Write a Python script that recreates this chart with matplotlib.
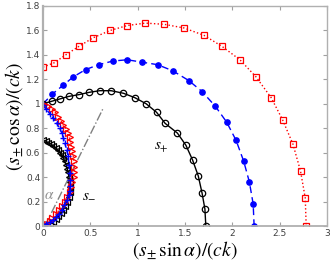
import matplotlib
matplotlib.use("Agg")
import matplotlib.pyplot as plt
from matplotlib.ticker import FuncFormatter

plt.rcParams['mathtext.fontset'] = 'stix'

# s+ curves
bk_plus_x = [0.0, 0.09, 0.18, 0.27, 0.38, 0.49, 0.60, 0.72, 0.85, 0.97, 1.09, 1.20, 1.29, 1.42, 1.51, 1.58, 1.64, 1.68, 1.71, 1.72]
bk_plus_y = [1.00, 1.02, 1.04, 1.06, 1.075, 1.094, 1.107, 1.107, 1.086, 1.05, 1.00, 0.93, 0.84, 0.76, 0.66, 0.54, 0.41, 0.27, 0.14, 0.0]

bl_plus_x = [0.0, 0.10, 0.21, 0.32, 0.45, 0.59, 0.74, 0.89, 1.05, 1.21, 1.37, 1.54, 1.68, 1.82, 1.94, 2.04, 2.12, 2.18, 2.22, 2.23]
bl_plus_y = [1.00, 1.08, 1.15, 1.22, 1.28, 1.32, 1.35, 1.36, 1.34, 1.32, 1.27, 1.19, 1.10, 0.98, 0.85, 0.70, 0.53, 0.36, 0.18, 0.0]

rd_plus_x = [0.0, 0.12, 0.24, 0.38, 0.53, 0.71, 0.89, 1.08, 1.28, 1.49, 1.70, 1.89, 2.08, 2.25, 2.41, 2.53, 2.64, 2.72, 2.77, 2.78]
rd_plus_y = [1.30, 1.336, 1.40, 1.47, 1.54, 1.60, 1.64, 1.66, 1.65, 1.62, 1.56, 1.47, 1.36, 1.22, 1.05, 0.87, 0.67, 0.45, 0.23, 0.0]

# s- curves
bk_minus_x = [0.0, 0.03, 0.056, 0.085, 0.11, 0.135, 0.16, 0.18, 0.20, 0.215, 0.23, 0.245, 0.255, 0.265, 0.275, 0.28, 0.285, 0.28, 0.27, 0.25, 0.23, 0.21, 0.185, 0.16, 0.135, 0.11, 0.075, 0.04, 0.015, 0.0]
bk_minus_y = [0.70, 0.695, 0.68, 0.67, 0.655, 0.64, 0.62, 0.60, 0.58, 0.555, 0.53, 0.50, 0.47, 0.44, 0.40, 0.36, 0.32, 0.28, 0.24, 0.20, 0.165, 0.13, 0.105, 0.08, 0.055, 0.035, 0.02, 0.005, 0.002, 0.0]

rd_minus_x = [0.0, 0.05, 0.09, 0.13, 0.16, 0.19, 0.21, 0.24, 0.26, 0.28, 0.29, 0.30, 0.31, 0.32, 0.325, 0.33, 0.33, 0.325, 0.31, 0.295, 0.28, 0.255, 0.23, 0.20, 0.17, 0.135, 0.10, 0.07, 0.04, 0.015, 0.0]
rd_minus_y = [1.00, 0.985, 0.96, 0.93, 0.895, 0.86, 0.83, 0.795, 0.76, 0.725, 0.69, 0.65, 0.61, 0.57, 0.53, 0.485, 0.44, 0.40, 0.36, 0.32, 0.28, 0.24, 0.20, 0.165, 0.13, 0.095, 0.065, 0.04, 0.02, 0.006, 0.0]

bl_minus_x = [0.0, 0.035, 0.07, 0.11, 0.145, 0.175, 0.20, 0.215, 0.23, 0.25, 0.265, 0.275, 0.285, 0.29, 0.29, 0.285, 0.27, 0.25, 0.225, 0.20, 0.17, 0.14, 0.105, 0.07, 0.035, 0.01, 0.0]
bl_minus_y = [0.99, 0.955, 0.92, 0.88, 0.84, 0.80, 0.76, 0.72, 0.68, 0.625, 0.57, 0.50, 0.43, 0.38, 0.33, 0.29, 0.25, 0.21, 0.17, 0.135, 0.10, 0.075, 0.05, 0.03, 0.015, 0.004, 0.0]

alpha_line_x = [0.02, 0.64]
alpha_line_y = [0.0, 0.97]

x_ticks = [0, 0.5, 1, 1.5, 2, 2.5, 3]
y_ticks = [0, 0.2, 0.4, 0.6, 0.8, 1.0, 1.2, 1.4, 1.6, 1.8]

fig = plt.figure(figsize=(3.32, 2.72), dpi=100)
ax = fig.add_axes([0.1295, 0.169, 0.8555, 0.809])

ax.plot(alpha_line_x, alpha_line_y, color='#808080', ls='-.', lw=1.0, zorder=1)

ax.plot(rd_plus_x, rd_plus_y, color='red', ls=':', lw=1.0, marker='s', ms=3.8,
        mfc='none', mec='red', mew=0.9)
ax.plot(bl_plus_x, bl_plus_y, color='blue', ls='--', lw=1.0, marker='o', ms=3.8,
        mfc='blue', mec='blue', dashes=(5, 3))
ax.plot(bk_plus_x, bk_plus_y, color='black', ls='-', lw=1.0, marker='o', ms=4.6,
        mfc='none', mec='black', mew=0.9)

ax.plot(bk_minus_x, bk_minus_y, color='black', ls='-', lw=1.0, marker='<', ms=4.3,
        mfc='none', mec='black', mew=0.9)
ax.plot(rd_minus_x, rd_minus_y, color='red', ls=':', lw=1.0, marker='>', ms=4.3,
        mfc='none', mec='red', mew=0.9)
ax.plot(bl_minus_x, bl_minus_y, color='blue', ls='--', lw=1.0, marker='+', ms=5,
        mec='blue', mew=1.0)

ax.text(1.25, 0.64, r'$s_{+}$', fontsize=11, ha='center', va='center')
ax.text(0.49, 0.27, r'$s_{-}$', fontsize=11, ha='center', va='center')
ax.text(0.07, 0.26, r'$\alpha$', fontsize=11, ha='center', va='center', color='#909090')

ax.set_xlim(0, 3)
ax.set_ylim(0, 1.8)
ax.set_xticks(x_ticks)
ax.set_yticks(y_ticks)
fmt = FuncFormatter(lambda v, p: ('%g' % v))
ax.xaxis.set_major_formatter(fmt)
ax.yaxis.set_major_formatter(fmt)
ax.tick_params(direction='in', length=3, width=0.8, labelsize=6.5, colors='#404040',
               top=True, right=True, pad=2)
ax.tick_params(color='#a0a0a0')
for s in ax.spines.values():
    s.set_color('#b0b0b0')
    s.set_linewidth(1.0)
ax.spines['left'].set_linewidth(1.6)
ax.spines['bottom'].set_linewidth(1.3)

ax.set_xlabel(r'$(s_{\pm}\,\sin\alpha)/(ck)$', fontsize=14, labelpad=1)
ax.set_ylabel(r'$(s_{\pm}\,\cos\alpha)/(ck)$', fontsize=14, labelpad=0)

fig.savefig('out.png', dpi=100)
